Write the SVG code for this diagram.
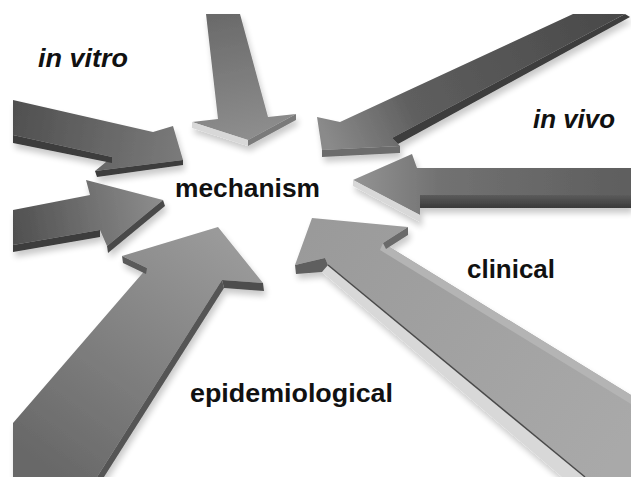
<svg xmlns="http://www.w3.org/2000/svg" width="631" height="477" viewBox="0 0 631 477">
<defs>
<style>
.lbl{font-family:"Liberation Sans",Arial,sans-serif;font-weight:bold;font-size:26px;fill:#111}
.it{font-style:italic}
.dark{fill:#3c3c3c}
.light{fill:#d8d8d8}
</style>
<filter id="sh" x="-20%" y="-20%" width="140%" height="140%">
<feGaussianBlur in="SourceAlpha" stdDeviation="3"/>
<feOffset dx="2" dy="5" result="b"/>
<feComponentTransfer><feFuncA type="linear" slope="0.22"/></feComponentTransfer>
<feMerge><feMergeNode/><feMergeNode in="SourceGraphic"/></feMerge>
</filter>
<linearGradient id="gTop" gradientUnits="userSpaceOnUse" x1="220" y1="14" x2="245" y2="140">
<stop offset="0" stop-color="#6a6a6a"/><stop offset="1" stop-color="#8e8e8e"/></linearGradient>
<linearGradient id="gVitro" gradientUnits="userSpaceOnUse" x1="13" y1="120" x2="180" y2="150">
<stop offset="0" stop-color="#505050"/><stop offset="1" stop-color="#7a7a7a"/></linearGradient>
<linearGradient id="gLeft" gradientUnits="userSpaceOnUse" x1="13" y1="230" x2="160" y2="205">
<stop offset="0" stop-color="#505050"/><stop offset="1" stop-color="#8c8c8c"/></linearGradient>
<linearGradient id="gTR" gradientUnits="userSpaceOnUse" x1="610" y1="14" x2="330" y2="145">
<stop offset="0" stop-color="#4a4a4a"/><stop offset="0.7" stop-color="#5e5e5e"/><stop offset="1" stop-color="#8a8a8a"/></linearGradient>
<linearGradient id="gVivo" gradientUnits="userSpaceOnUse" x1="631" y1="185" x2="355" y2="185">
<stop offset="0" stop-color="#5e5e5e"/><stop offset="0.7" stop-color="#727272"/><stop offset="1" stop-color="#939393"/></linearGradient>
<linearGradient id="gVivoSide" gradientUnits="userSpaceOnUse" x1="0" y1="194" x2="0" y2="208">
<stop offset="0" stop-color="#5e5e5e"/><stop offset="1" stop-color="#3a3a3a"/></linearGradient>
<linearGradient id="gClin" gradientUnits="userSpaceOnUse" x1="310" y1="230" x2="620" y2="450">
<stop offset="0" stop-color="#9a9a9a"/><stop offset="1" stop-color="#a9a9a9"/></linearGradient>
<linearGradient id="gEpi" gradientUnits="userSpaceOnUse" x1="220" y1="235" x2="50" y2="470">
<stop offset="0" stop-color="#9a9a9a"/><stop offset="1" stop-color="#686868"/></linearGradient>
</defs>
<rect width="631" height="477" fill="#ffffff"/>

<g id="arrow-clinical" filter="url(#sh)">
<polygon fill="url(#gClin)" points="312,218 408,227 383,243 631,395 631,477 585,477 328,265 325,258 295,265"/>
<polygon fill="#b4b4b4" points="383,243 631,395 631,404 380,250"/>
<polygon class="light" points="328,265 585,477 562,477 322,272"/>
<line x1="328" y1="265" x2="585" y2="477" stroke="#4a4a4a" stroke-width="1.5"/>
<polygon fill="#5e5e5e" points="295,265 325,258 328,265 322,272 296,274"/>
<polygon fill="#6a6a6a" points="408,227 408,235 386,249 383,243"/>
</g>

<g id="arrow-epidemiological" filter="url(#sh)">
<polygon fill="url(#gEpi)" points="218,227 263,283 222,280 97,477 13,477 13,423 147,268 122,256"/>
<polygon fill="#4e4e4e" points="263,283 264,291 224,288 222,280"/>
<polygon fill="#555555" points="222,280 224,288 104,477 97,477"/>
<polygon fill="#5a5a5a" points="122,256 147,268 146,274 123,263"/>
</g>

<g id="arrow-top" filter="url(#sh)">
<polygon fill="url(#gTop)" points="206,14 240,14 268,117 296,114 248,140 192,122 218,119"/>
<polygon class="light" points="192,122 248,140 248,146 192,128"/>
<polygon fill="#7a7a7a" points="248,140 296,114 296,120 248,146"/>
</g>

<g id="arrow-in-vitro" filter="url(#sh)">
<polygon fill="url(#gVitro)" points="13,100 153,132 173,126 183,160 95,171 112,157 13,135"/>
<polygon class="dark" points="13,135 112,157 112,163 13,143"/>
<polygon class="dark" points="95,171 183,160 183,165 97,177"/>
</g>

<g id="arrow-left" filter="url(#sh)">
<polygon fill="url(#gLeft)" points="13,210 90,195 86,180 163,200 107,246 100,230 13,245"/>
<polygon class="dark" points="13,245 100,230 100,237 13,252"/>
<polygon fill="#4a4a4a" points="163,200 165,206 108,253 107,246"/>
</g>

<g id="arrow-top-right" filter="url(#sh)">
<polygon fill="url(#gTR)" points="573,14 625,14 392,138 400,146 322,150 317,117 340,122"/>
<polygon class="dark" points="625,14 630,17 398,144 392,138"/>
<polygon fill="#6c6c6c" points="322,150 400,146 400,153 322,157"/>
</g>

<g id="arrow-in-vivo" filter="url(#sh)">
<polygon fill="url(#gVivo)" points="631,168 417,168 412,154 353,180 420,215 420,207 631,207"/>
<polygon fill="url(#gVivoSide)" points="420,195 631,195 631,208 420,208"/>
<polygon class="light" points="353,180 420,215 420,222 353,186"/>
</g>

<g id="label-in-vitro"><text class="lbl it" x="38" y="67" textLength="90" lengthAdjust="spacingAndGlyphs">in vitro</text></g>
<g id="label-in-vivo"><text class="lbl it" x="533" y="128" textLength="82" lengthAdjust="spacingAndGlyphs">in vivo</text></g>
<g id="label-mechanism"><text class="lbl" x="175" y="197" textLength="145" lengthAdjust="spacingAndGlyphs">mechanism</text></g>
<g id="label-clinical"><text class="lbl" x="467" y="278" textLength="88" lengthAdjust="spacingAndGlyphs">clinical</text></g>
<g id="label-epidemiological"><text class="lbl" x="190" y="402" textLength="203" lengthAdjust="spacingAndGlyphs">epidemiological</text></g>
</svg>
